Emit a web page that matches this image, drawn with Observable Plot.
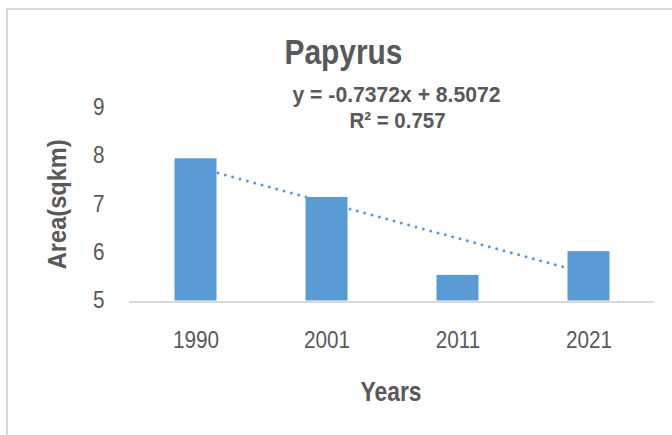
<!DOCTYPE html>
<html>
<head>
<meta charset="utf-8">
<script src="https://cdn.jsdelivr.net/npm/d3@7"></script>
<script src="https://cdn.jsdelivr.net/npm/@observablehq/plot@0.6"></script>
<style>
  html, body { margin: 0; padding: 0; background: #fff; }
  #wrap { position: relative; width: 672px; height: 435px; overflow: hidden; }
  #border { position: absolute; left: 6px; top: 8px; width: 700px; height: 500px;
            border-left: 2.5px solid #d9d9d9; border-top: 2.5px solid #d9d9d9; pointer-events: none; }
</style>
</head>
<body>
<div id="wrap"><div id="border"></div></div>
<script>
const years = ["1990", "2001", "2011", "2021"];
const areas = [7.94, 7.14, 5.53, 6.02];
const yTicks = [5, 6, 7, 8, 9];
const trendSlope = -0.7372;
const trendIntercept = 8.5072;
const titleText = "Papyrus";
const equationText = "y = -0.7372x + 8.5072";
const r2Text = "R² = 0.757";
const xLabel = "Years";
const yLabel = "Area(sqkm)";

const bars = years.map((year, i) => ({year, area: areas[i]}));
const trend = years.map((year, i) => ({year, value: trendSlope * (i + 1) + trendIntercept}));

const blue = "#5b9bd5";
const textColor = "#595959";
const font = "'Liberation Sans Narrow', 'Arial Narrow', 'Liberation Sans', Arial, sans-serif";

const chart = Plot.plot({
  width: 672,
  height: 435,
  marginLeft: 129,
  marginRight: 18,
  marginTop: 107,
  marginBottom: 134.5,
  style: {fontFamily: font, background: "transparent", color: textColor, overflow: "visible"},
  x: {type: "band", domain: years, padding: 0, label: null},
  y: {domain: [5, 9], label: null},
  marks: [
    Plot.line(trend, {x: "year", y: "value", stroke: blue, strokeWidth: 3,
      strokeDasharray: "0 7.6", strokeLinecap: "round"}),
    Plot.barY(bars, {x: "year", y1: 5, y2: "area", fill: blue, insetLeft: 44.5, insetRight: 44.5}),
    Plot.ruleY([5], {stroke: "#d9d9d9", strokeWidth: 2, dy: 1}),
    Plot.axisY(yTicks, {tickSize: 0, tickPadding: 25, fontSize: 23, fill: textColor, label: null}),
    Plot.axisX({tickSize: 0, tickPadding: 31, fontSize: 23, fill: textColor, label: null}),
    Plot.text([titleText], {text: d => d, frameAnchor: "top-left", dx: 214, dy: -44,
      lineAnchor: "bottom", textAnchor: "middle", fontSize: 35, fontWeight: "bold", fill: textColor}),
    Plot.text([equationText], {text: d => d, frameAnchor: "top-left", dx: 267, dy: -6,
      lineAnchor: "bottom", textAnchor: "middle", fontSize: 22, fontWeight: "bold", fill: textColor}),
    Plot.text([r2Text], {text: d => d, frameAnchor: "top-left", dx: 268, dy: 20,
      lineAnchor: "bottom", textAnchor: "middle", fontSize: 22, fontWeight: "bold", fill: textColor}),
    Plot.text([xLabel], {text: d => d, frameAnchor: "bottom-left", dx: 261.5, dy: 99.5,
      lineAnchor: "bottom", textAnchor: "middle", fontSize: 28, fontWeight: "bold", fill: textColor}),
    Plot.text([yLabel], {text: d => d, frameAnchor: "left", dx: -71.5, rotate: -90,
      lineAnchor: "middle", textAnchor: "middle", fontSize: 26, fontWeight: "bold", fill: textColor})
  ]
});
document.getElementById("wrap").prepend(chart);

// Condense the text to mimic the narrow typeface of the original
const targetWidths = new Map([
  [titleText, 118], [equationText, 208], [r2Text, 96], [xLabel, 61], [yLabel, 130]
]);
d3.select(chart).selectAll("text").each(function() {
  const t = this.textContent;
  const len = this.getComputedTextLength();
  const target = targetWidths.has(t) ? targetWidths.get(t) : len * 0.9;
  this.setAttribute("textLength", target);
  this.setAttribute("lengthAdjust", "spacingAndGlyphs");
});
</script>
</body>
</html>
